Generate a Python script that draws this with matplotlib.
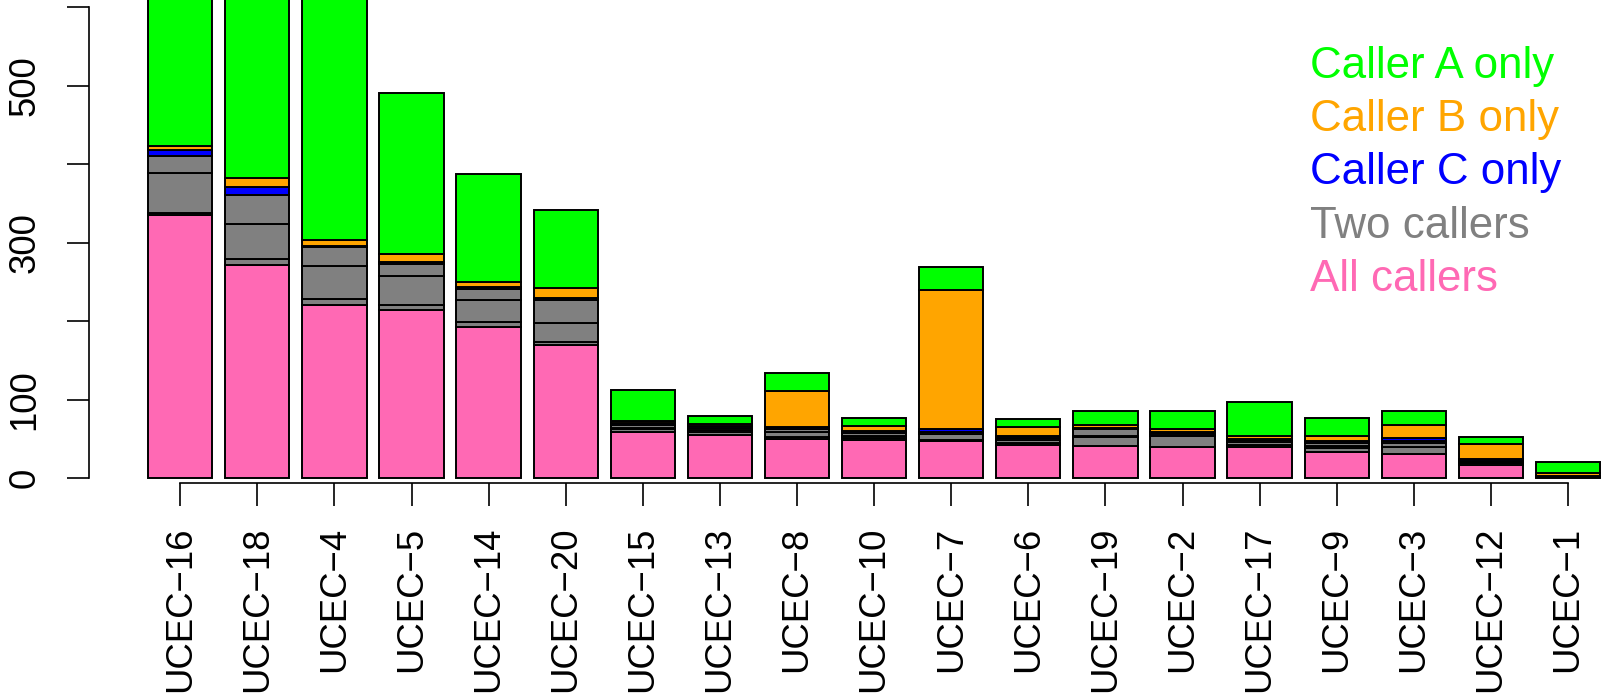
import numpy as np
import matplotlib
matplotlib.use("Agg")
import matplotlib.pyplot as plt

plt.rcParams["font.family"] = ["Liberation Sans", "DejaVu Sans"]

# Samples, ordered by the number of variants found by all callers
samples = ["UCEC\u221216", "UCEC\u221218", "UCEC\u22124", "UCEC\u22125", "UCEC\u221214",
           "UCEC\u221220", "UCEC\u221215", "UCEC\u221213", "UCEC\u22128", "UCEC\u221210",
           "UCEC\u22127", "UCEC\u22126", "UCEC\u221219", "UCEC\u22122", "UCEC\u221217",
           "UCEC\u22129", "UCEC\u22123", "UCEC\u221212", "UCEC\u22121"]

# Stacked counts, bottom to top
all_callers   = [335, 272, 220, 214, 193, 170, 59, 55, 50, 48, 47, 42, 41, 40, 39, 33, 30, 17, 1]
two_callers_1 = [3, 7, 8, 7, 6, 3, 3, 4, 2, 3, 1, 2, 11, 13, 3, 5, 10, 2, 0]
two_callers_2 = [51, 45, 42, 36, 28, 24, 2, 2, 7, 3, 8, 4, 2, 2, 4, 3, 4, 1, 1]
two_callers_3 = [21, 37, 24, 16, 14, 30, 4, 3, 3, 3, 3, 3, 8, 2, 2, 3, 3, 2, 0]
caller_c_only = [8, 10, 2, 2, 2, 3, 2, 2, 3, 3, 3, 3, 2, 1, 2, 3, 4, 2, 1]
caller_b_only = [5, 11, 8, 11, 7, 12, 3, 3, 46, 6, 178, 11, 3, 4, 3, 7, 16, 19, 4]
caller_a_only = [340, 330, 320, 205, 138, 100, 39, 10, 23, 10, 29, 10, 18, 23, 44, 23, 19, 9, 13]

legend_labels = ["Caller A only", "Caller B only", "Caller C only", "Two callers", "All callers"]

GREEN, ORANGE, BLUE, GRAY, PINK = "#00FF00", "#FFA500", "#0000FF", "#808080", "#FF69B4"

W, H = 1603, 700
fig = plt.figure(figsize=(W / 100, H / 100), dpi=100)
ax = fig.add_axes([0, 0, 1, 1])

# pixel geometry of the plotting area
x0_px, dx_px = 180.2, 77.1        # first bar centre, spacing
y0_px, dy_px = 478.0, 0.7845      # zero line, pixels per count

ax.set_xlim(-x0_px / dx_px, (W - x0_px) / dx_px)
ax.set_ylim(-(H - y0_px) / dy_px, y0_px / dy_px)

x = np.arange(len(samples))
bottom = np.zeros(len(samples))
layers = [(all_callers, PINK), (two_callers_1, GRAY), (two_callers_2, GRAY),
          (two_callers_3, GRAY), (caller_c_only, BLUE), (caller_b_only, ORANGE),
          (caller_a_only, GREEN)]
for vals, col in layers:
    vals = np.asarray(vals, dtype=float)
    ax.bar(x, vals, width=1 / 1.2, bottom=bottom, color=col,
           edgecolor="black", linewidth=1.4, zorder=2)
    bottom += vals

# axes styled like base R graphics
for s in ("top", "right"):
    ax.spines[s].set_visible(False)
ax.spines["left"].set_position(("data", (89.3 - x0_px) / dx_px))
ax.spines["bottom"].set_position(("data", (y0_px - 483.3) / dy_px))
ax.spines["left"].set_bounds(0, 600)
ax.spines["bottom"].set_bounds(x[0], x[-1])
for s in ("left", "bottom"):
    ax.spines[s].set_linewidth(1.2)

ax.set_yticks(np.arange(0, 601, 100))
ax.set_yticklabels(["0", "100", "", "300", "", "500", ""])
ax.set_xticks(x)
ax.set_xticklabels(samples)
ax.tick_params(axis="both", direction="out", width=1.2, labelsize=26.3)
ax.tick_params(axis="y", length=15.9, pad=18, labelrotation=90)
ax.tick_params(axis="x", length=16.3, pad=15, labelrotation=90)
for lab in ax.get_yticklabels():
    lab.set_verticalalignment("center")
for lab in ax.get_xticklabels():
    lab.set_verticalalignment("top")
    lab.set_horizontalalignment("center")

# coloured text legend
legend_colors = [GREEN, ORANGE, BLUE, GRAY, PINK]
for k, (lab, col) in enumerate(zip(legend_labels, legend_colors)):
    base = 77.7 + 53.3 * k
    fig.text(1309.5 / W, 1 - base / H, lab, color=col, fontsize=31.6,
             ha="left", va="baseline")

fig.savefig("out.png", dpi=100)
